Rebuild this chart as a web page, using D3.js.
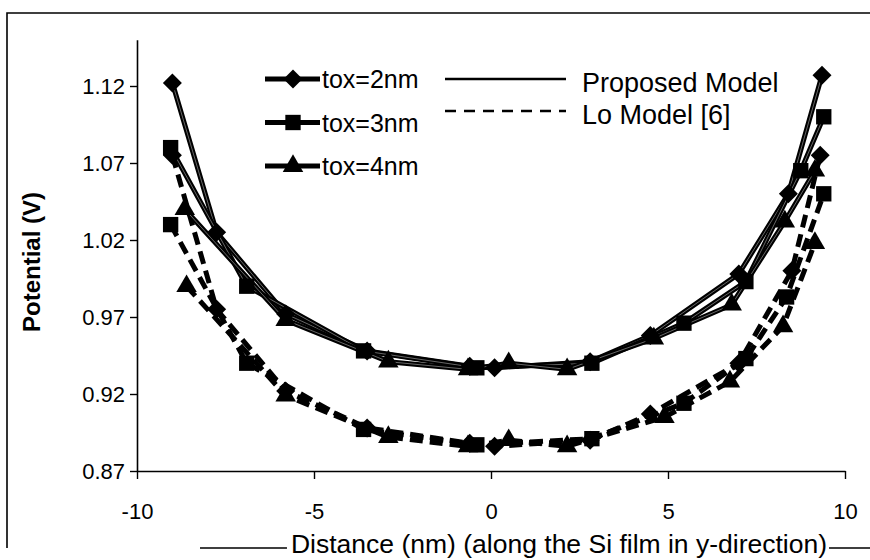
<!DOCTYPE html>
<html><head><meta charset="utf-8">
<script src="https://cdn.jsdelivr.net/npm/d3@7"></script>
<style>body{margin:0;background:#fff} svg{display:block}</style>
</head><body>
<svg id="chart" width="870" height="560"></svg>
<script>
// Axis ticks and legend text
const xTicks = [-10, -5, 0, 5, 10];
const yTicks = [0.87, 0.92, 0.97, 1.02, 1.07, 1.12];
const toxLabels = ["tox=2nm", "tox=3nm", "tox=4nm"];
const modelLabels = ["Proposed Model", "Lo Model [6]"];

// Proposed model (solid lines)
const prop2X = [-9.0, -7.75, -5.8, -3.5, -0.6, 0.1, 2.8, 4.5, 7.0, 8.4, 9.35];
const prop2Y = [1.122, 1.025, 0.972, 0.948, 0.938, 0.937, 0.941, 0.958, 0.998, 1.05, 1.127];
const prop3X = [-9.05, -6.9, -3.6, -0.4, 2.85, 5.45, 7.2, 8.75, 9.4];
const prop3Y = [1.08, 0.99, 0.948, 0.937, 0.940, 0.966, 0.993, 1.065, 1.10];
const prop4X = [-8.65, -5.8, -2.9, -0.65, 0.5, 2.15, 4.6, 6.8, 8.3, 9.15];
const prop4Y = [1.04, 0.968, 0.941, 0.936, 0.940, 0.936, 0.956, 0.978, 1.032, 1.065];

// Lo model [6] (dashed lines)
const lo2X = [-9.0, -7.75, -5.8, -3.5, -0.6, 0.1, 2.8, 4.5, 7.0, 8.5, 9.3];
const lo2Y = [1.075, 0.975, 0.922, 0.898, 0.888, 0.886, 0.890, 0.907, 0.940, 1.000, 1.075];
const lo3X = [-9.05, -6.9, -3.6, -0.4, 2.85, 5.45, 7.2, 8.35, 9.4];
const lo3Y = [1.03, 0.940, 0.897, 0.887, 0.891, 0.914, 0.943, 0.983, 1.05];
const lo4X = [-8.6, -5.8, -2.9, -0.65, 0.5, 2.15, 4.9, 6.75, 8.25, 9.15];
const lo4Y = [0.99, 0.919, 0.892, 0.886, 0.890, 0.886, 0.905, 0.928, 0.964, 1.018];

const zip = (xs, ys) => xs.map((x, i) => ({x, y: ys[i]}));
const series = [
  {pts: zip(lo2X, lo2Y), shape: "diamond", dashed: true},
  {pts: zip(lo3X, lo3Y), shape: "square", dashed: true},
  {pts: zip(lo4X, lo4Y), shape: "triangle", dashed: true},
  {pts: zip(prop2X, prop2Y), shape: "diamond", dashed: false},
  {pts: zip(prop3X, prop3Y), shape: "square", dashed: false},
  {pts: zip(prop4X, prop4Y), shape: "triangle", dashed: false}
];

const svg = d3.select("#chart");
const FONT = "'Liberation Sans', Arial, sans-serif";

// Outer frame: top and left edges, bottom edge only around the x title
svg.append("path")
  .attr("d", "M870,13 H7 V548 M200,548 H870")
  .attr("fill", "none").attr("stroke", "#000").attr("stroke-width", 1.6);

const x = d3.scaleLinear().domain([-10, 10]).range([137, 845]);
const y = d3.scaleLinear().domain([0.87, 1.15]).range([471, 39.8]);

// Axes
const yAxis = svg.append("g").attr("transform", "translate(137,0)")
  .call(d3.axisLeft(y).tickValues(yTicks).tickSize(7).tickSizeOuter(0)
    .tickPadding(5).tickFormat(d3.format(".2f")));
const xAxis = svg.append("g").attr("transform", "translate(0,471)")
  .call(d3.axisBottom(x).tickValues(xTicks).tickSize(8).tickSizeOuter(0)
    .tickPadding(24).tickFormat(d => String(d)));
[yAxis, xAxis].forEach(g => {
  g.select(".domain").attr("stroke", "#000").attr("stroke-width", 1.6);
  g.selectAll(".tick line").attr("stroke", "#000").attr("stroke-width", 1.4);
  g.selectAll("text").attr("font-family", FONT).attr("font-size", 22).attr("fill", "#000");
});

// Axis titles
svg.append("text")
  .attr("transform", "translate(40,262) rotate(-90)")
  .attr("text-anchor", "middle")
  .attr("font-family", FONT).attr("font-size", 24).attr("font-weight", "bold")
  .text("Potential (V)");

// white band behind the x title interrupts the frame's bottom edge
const band = svg.append("rect").attr("fill", "#fff");
const xTitle = svg.append("text")
  .attr("x", 559).attr("y", 553)
  .attr("text-anchor", "middle")
  .attr("font-family", FONT).attr("font-size", 26.5)
  .text("Distance (nm) (along the Si film in y-direction)");
const bb = xTitle.node().getBBox();
band.attr("x", bb.x - 4).attr("y", 532).attr("width", bb.width + 6).attr("height", 28);

// Marker shapes
const symbolOf = {
  diamond: d3.symbol().type(d3.symbolDiamond2).size(230),
  square: d3.symbol().type(d3.symbolSquare2).size(300),
  triangle: d3.symbol().type(d3.symbolTriangle2).size(300)
};

const line = d3.line().x(d => x(d.x)).y(d => y(d.y));
const plot = svg.append("g");

series.forEach(s => {
  plot.append("path").datum(s.pts)
    .attr("d", line)
    .attr("fill", "none").attr("stroke", "#000")
    .attr("stroke-width", 5)
    .attr("stroke-linejoin", "round")
    .attr("stroke-dasharray", s.dashed ? "13,7" : null);
  if (!s.dashed) {
    plot.append("path").datum(s.pts)
      .attr("d", line)
      .attr("fill", "none").attr("stroke", "#fff")
      .attr("stroke-width", 0.8).attr("stroke-opacity", 0.5);
  }
});
series.forEach(s => {
  plot.selectAll(null).data(s.pts).enter().append("path")
    .attr("transform", d => `translate(${x(d.x)},${y(d.y)})`)
    .attr("d", symbolOf[s.shape]())
    .attr("fill", "#000");
});

// Legend: marker series
const leg = svg.append("g");
toxLabels.forEach((lab, i) => {
  const ly = 79 + i * 43.5;
  leg.append("line").attr("x1", 265).attr("x2", 320).attr("y1", ly).attr("y2", ly)
    .attr("stroke", "#000").attr("stroke-width", 5);
  leg.append("path").attr("transform", `translate(293,${ly})`)
    .attr("d", symbolOf[["diamond", "square", "triangle"][i]]()).attr("fill", "#000");
  leg.append("text").attr("x", 322).attr("y", ly + 9)
    .attr("font-family", FONT).attr("font-size", 25).text(lab);
});
// Legend: model line styles
modelLabels.forEach((lab, i) => {
  const ly = 79 + i * 32;
  leg.append("line").attr("x1", 445).attr("x2", 566).attr("y1", ly).attr("y2", ly)
    .attr("stroke", "#000").attr("stroke-width", 2.5)
    .attr("stroke-dasharray", i ? "11,8" : null);
  leg.append("text").attr("x", 582).attr("y", ly + 13)
    .attr("font-family", FONT).attr("font-size", 27).text(lab);
});
</script>
</body></html>
